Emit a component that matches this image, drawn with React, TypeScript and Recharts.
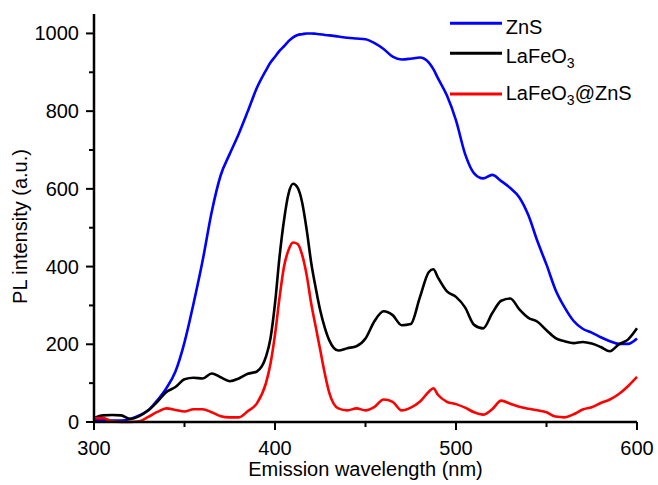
import React from 'react';
import { LineChart, Line, XAxis, YAxis } from 'recharts';

const wavelengths = [
  300, 305, 310, 315, 320, 325, 330, 335, 340, 345, 350, 355, 360, 365, 370, 375, 380, 385, 390, 395,
  397.5, 400, 402.5, 405, 407.5, 410, 412.5, 415, 417.5, 420, 422.5, 425, 427.5, 430,
  435, 440, 445, 450, 455, 460, 465, 470, 475, 480, 485,
  487.5,
  490, 495, 500, 505, 510, 515, 520, 525, 530, 535, 540, 545, 550, 555, 560, 565, 570, 575, 580, 585, 590, 595, 600,
];

const znsValues = [
  5, 5, 4, 4, 8, 17, 30, 56, 87, 130, 205, 305, 415, 540, 635, 690, 742, 800, 860, 905,
  925, 940, 955, 967, 980, 990, 996, 998, 1000, 1000, 999, 998, 996, 995,
  992, 989, 987, 985, 975, 960, 940, 933, 935, 938, 925,
  908,
  885, 840, 776, 690, 640, 627, 636, 620, 602, 578, 532, 465, 405, 340, 295, 260, 240, 230, 218, 208, 201, 201, 215,
];

const lafeo3Values = [
  10, 17, 18, 17, 8, 15, 30, 52, 77, 90, 110, 114, 112, 125, 115, 105, 112, 124, 130, 168,
  215, 305, 425, 520, 588, 613, 603, 565, 495, 410, 345, 287, 243, 210,
  184, 190, 195, 215, 260, 285, 275, 249, 252, 320, 386,
  393,
  372, 336, 322, 295, 250, 241, 280, 312, 318, 290, 268, 258, 236, 216, 208, 203, 206, 202, 193, 182, 200, 212, 241,
];

const coreShellValues = [
  10, 10, 2, 0, 0, 2, 13, 26, 35, 31, 27, 33, 33, 25, 15, 12, 12, 28, 48, 100,
  150, 225, 320, 400, 443, 462, 458, 430, 378, 305, 245, 185, 125, 75,
  35, 30, 35, 30, 39, 58, 52, 30, 37, 52, 78,
  87,
  70, 52, 46, 37, 25, 19, 33, 55, 47, 39, 34, 30, 25, 14, 12, 20, 32, 38, 49, 58, 72, 92, 116,
];

const xTicks = [300, 350, 400, 450, 500, 550, 600];
const yTicks = [0, 100, 200, 300, 400, 500, 600, 700, 800, 900, 1000];
const seriesKeys = ['zns', 'lafeo3', 'coreShell'];
const seriesNames = ['ZnS', 'LaFeO3', 'LaFeO3@ZnS'];
const seriesColors = ['#0000ff', '#000000', '#ff0000'];
const xLabel = 'Emission wavelength (nm)';
const yLabel = 'PL intensity (a.u.)';

const data = wavelengths.map((wl, i) => ({
  wl,
  zns: znsValues[i],
  lafeo3: lafeo3Values[i],
  coreShell: coreShellValues[i],
}));

const FONT = '"Liberation Sans", Arial, Helvetica, sans-serif';

const YTick = (props: any) => {
  const { x, y, payload } = props;
  const v = payload.value;
  const major = v % 200 === 0;
  const ax = x + 8 + 7;
  return (
    <g>
      <line x1={ax} x2={ax - (major ? 8 : 5)} y1={y} y2={y} stroke="#000" strokeWidth={2} />
      {major && (
        <text x={ax - 15} y={y} dy="0.35em" textAnchor="end" fontSize={20} fontFamily={FONT} fill="#000">
          {v}
        </text>
      )}
    </g>
  );
};

const XTick = (props: any) => {
  const { x, y, payload } = props;
  const v = payload.value;
  const major = v % 100 === 0;
  const ay = y - 8 - 2;
  return (
    <g>
      <line x1={x} x2={x} y1={ay} y2={ay + (major ? 8 : 5)} stroke="#000" strokeWidth={2} />
      {major && (
        <text x={x} y={ay + 26} dy="0.35em" textAnchor="middle" fontSize={20} fontFamily={FONT} fill="#000">
          {v}
        </text>
      )}
    </g>
  );
};

const renderChem = (name: string) => {
  const parts = name.split(/(\d)/).filter((p) => p.length > 0);
  const out: React.ReactNode[] = [];
  let shifted = false;
  parts.forEach((p, i) => {
    if (/^\d$/.test(p)) {
      out.push(
        <tspan key={i} fontSize={14} dy={5}>
          {p}
        </tspan>
      );
      shifted = true;
    } else {
      out.push(
        <tspan key={i} dy={shifted ? -5 : 0}>
          {p}
        </tspan>
      );
      shifted = false;
    }
  });
  return out;
};

const legendLineY = [23.3, 53.3, 94];
const legendTextY = [34.3, 63.3, 100];

export default function App() {
  return (
    <div style={{ position: 'absolute', left: 0, top: 0, width: 658, height: 485 }}>
      <LineChart
        width={658}
        height={485}
        data={data}
        margin={{ top: 14, right: 21, left: 0, bottom: 7 }}
        style={{ fontFamily: FONT }}
      >
        <XAxis
          dataKey="wl"
          type="number"
          domain={[300, 600]}
          ticks={xTicks}
          height={56}
          tickSize={8}
          tickMargin={2}
          tickLine={false}
          tick={<XTick />}
          axisLine={{ stroke: '#000', strokeWidth: 2.5 }}
          label={{ value: xLabel, position: 'insideBottom', offset: 2, fontSize: 20, fill: '#000', fontFamily: FONT }}
        />
        <YAxis
          type="number"
          domain={[0, 1050]}
          ticks={yTicks}
          width={94}
          tickSize={8}
          tickMargin={7}
          tickLine={false}
          tick={<YTick />}
          axisLine={{ stroke: '#000', strokeWidth: 2.5 }}
        />
        <XAxis
          xAxisId="top"
          orientation="top"
          dataKey="wl"
          type="number"
          domain={[300, 600]}
          height={0}
          tick={false}
          tickLine={false}
          axisLine={{ stroke: '#000', strokeWidth: 2.5 }}
        />
        <YAxis
          yAxisId="right"
          orientation="right"
          type="number"
          domain={[0, 1050]}
          width={0}
          tick={false}
          tickLine={false}
          axisLine={{ stroke: '#000', strokeWidth: 3 }}
        />
        {seriesKeys.map((k, i) => (
          <Line
            key={k}
            dataKey={k}
            type="monotone"
            stroke={seriesColors[i]}
            strokeWidth={2.6}
            dot={false}
            isAnimationActive={false}
          />
        ))}
        <text
          x={20}
          y={226.5}
          transform="rotate(-90 20 226.5)"
          textAnchor="middle"
          dominantBaseline="central"
          fontSize={20}
          fontFamily={FONT}
          fill="#000"
        >
          {yLabel}
        </text>
        {seriesNames.map((n, i) => (
          <g key={n}>
            <line x1={450} x2={502} y1={legendLineY[i]} y2={legendLineY[i]} stroke={seriesColors[i]} strokeWidth={3} />
            <text x={505.7} y={legendTextY[i]} fontSize={20} fontFamily={FONT} fill="#000">
              {renderChem(n)}
            </text>
          </g>
        ))}
      </LineChart>
    </div>
  );
}
